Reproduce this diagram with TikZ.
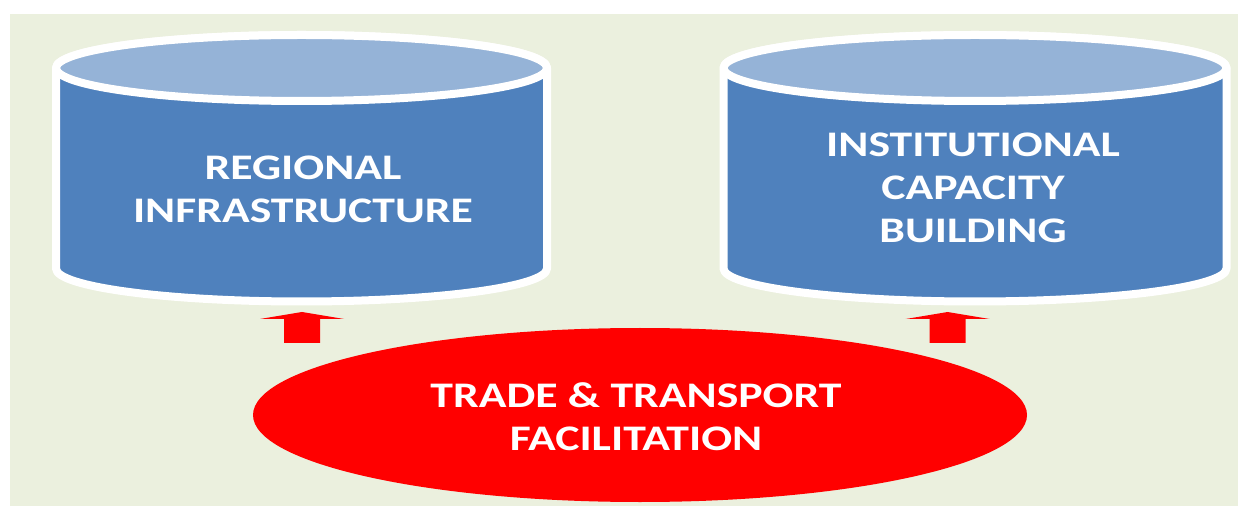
\documentclass[tikz,border=0pt]{standalone}
\usepackage{fontspec}
\setmainfont{Carlito}
\newfontfamily\widesans[FakeStretch=1.27]{Carlito}
\definecolor{bodyblueC}{RGB}{79,129,189}
\definecolor{lidblueC}{RGB}{149,179,215}
\definecolor{paleC}{RGB}{235,240,222}
\begin{document}
\begin{tikzpicture}[x=1pt,y=1pt,
  bodyblue/.style={fill=bodyblueC},
  lidblue/.style={fill=lidblueC},
  rim/.style={draw=white,line width=8pt,line join=round},
  label/.style={text=white,font=\widesans\fontsize{36}{43}\selectfont\bfseries,align=center,inner sep=0pt},
  uparrow/.style={fill=red,draw=none}]
\useasboundingbox (0,0) rectangle (1238,506);
% page margin and pale background
\fill[white] (0,0) rectangle (1238,506);
\fill[paleC] (10,0) rectangle (1238,492);

% cylinder: centre x, half width, top ellipse y, bottom ellipse y, y radius
\newcommand\drum[5]{%
  \path[bodyblue,rim] (#1-#2,#3) -- (#1-#2,#4)
    arc[start angle=180,end angle=360,x radius=#2,y radius=#5]
    -- (#1+#2,#3)
    arc[start angle=0,end angle=180,x radius=#2,y radius=#5] -- cycle;
  \path[lidblue,rim] (#1,#3) ellipse[x radius=#2,y radius=#5];
}
\drum{301.5}{245.5}{438}{237.5}{33}
\drum{975}{251.5}{438}{237.5}{33}

\node[label] (infra) at (303,317) {REGIONAL\\INFRASTRUCTURE};
\node[label] (inst) at (973,318) {INSTITUTIONAL\\CAPACITY\\BUILDING};

% central ellipse
\path[fill=red] (640,91) ellipse[x radius=387,y radius=87];
\node[label] (trade) at (636,89) {TRADE \& TRANSPORT\\FACILITATION};

% block arrows pointing up to the cylinders
\coordinate (la) at (302,163);
\coordinate (ra) at (947.5,163);
\foreach \a in {la,ra}{
  \path[uparrow] ([xshift=-18pt]\a) -- ([xshift=-18pt,yshift=24pt]\a)
    -- ([xshift=-42pt,yshift=24pt]\a) -- ([yshift=31pt]\a)
    -- ([xshift=42pt,yshift=24pt]\a) -- ([xshift=18pt,yshift=24pt]\a)
    -- ([xshift=18pt]\a) -- cycle;
}
\end{tikzpicture}
\end{document}
